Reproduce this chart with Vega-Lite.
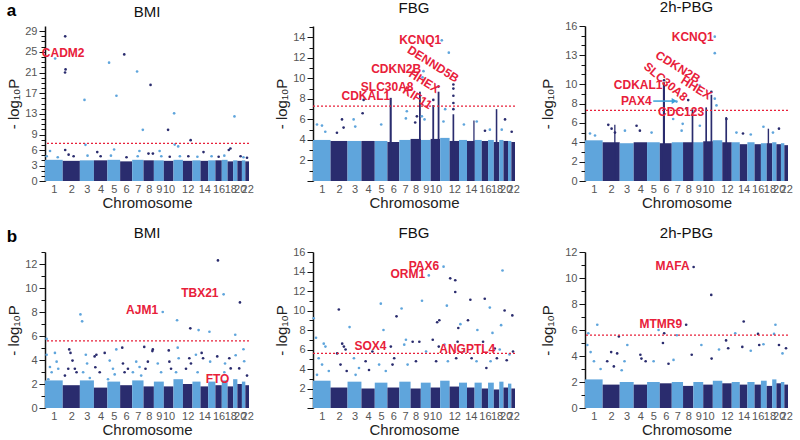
{
"$schema": "https://vega.github.io/schema/vega-lite/v6.json",
"padding": {"left": 6, "top": 0, "right": 4, "bottom": 0},
"datasets": {
"chr": [
{"c":1,"s":0,"e":250,"aB":4.1,"aF":4.0,"aP":4.2,"bB":2.3,"bF":2.8,"bP":2.2},
{"c":2,"s":250,"e":492,"aB":3.9,"aF":3.9,"aP":4.0,"bB":1.9,"bF":2.1,"bP":1.8},
{"c":3,"s":492,"e":690,"aB":4.0,"aF":3.9,"aP":3.9,"bB":2.3,"bF":2.7,"bP":2.0},
{"c":4,"s":690,"e":880,"aB":4.0,"aF":3.9,"aP":4.0,"bB":1.7,"bF":2.0,"bP":1.8},
{"c":5,"s":880,"e":1060,"aB":4.1,"aF":3.9,"aP":4.0,"bB":2.2,"bF":2.6,"bP":2.0},
{"c":6,"s":1060,"e":1230,"aB":3.8,"aF":3.8,"aP":3.9,"bB":1.9,"bF":2.1,"bP":1.9},
{"c":7,"s":1230,"e":1390,"aB":4.1,"aF":4.0,"aP":4.0,"bB":2.3,"bF":2.7,"bP":2.0},
{"c":8,"s":1390,"e":1536,"aB":4.0,"aF":4.1,"aP":4.0,"bB":1.8,"bF":2.0,"bP":1.7},
{"c":9,"s":1536,"e":1676,"aB":4.0,"aF":4.0,"aP":4.0,"bB":2.2,"bF":2.6,"bP":2.0},
{"c":10,"s":1676,"e":1812,"aB":3.9,"aF":4.1,"aP":4.1,"bB":1.8,"bF":2.1,"bP":1.8},
{"c":11,"s":1812,"e":1946,"aB":4.1,"aF":4.2,"aP":4.2,"bB":2.4,"bF":2.8,"bP":2.1},
{"c":12,"s":1946,"e":2080,"aB":3.9,"aF":3.9,"aP":4.0,"bB":2.0,"bF":2.2,"bP":1.9},
{"c":13,"s":2080,"e":2194,"aB":4.0,"aF":4.0,"aP":4.0,"bB":2.2,"bF":2.6,"bP":2.0},
{"c":14,"s":2194,"e":2302,"aB":3.9,"aF":3.9,"aP":3.8,"bB":1.8,"bF":2.1,"bP":1.8},
{"c":15,"s":2302,"e":2404,"aB":4.0,"aF":4.0,"aP":4.0,"bB":2.2,"bF":2.6,"bP":2.0},
{"c":16,"s":2404,"e":2494,"aB":4.0,"aF":3.9,"aP":3.8,"bB":1.9,"bF":2.0,"bP":1.8},
{"c":17,"s":2494,"e":2576,"aB":4.1,"aF":4.0,"aP":3.9,"bB":2.3,"bF":2.6,"bP":2.1},
{"c":18,"s":2576,"e":2654,"aB":3.8,"aF":3.8,"aP":3.9,"bB":1.8,"bF":1.9,"bP":1.7},
{"c":19,"s":2654,"e":2714,"aB":4.0,"aF":4.0,"aP":4.0,"bB":2.4,"bF":2.7,"bP":2.2},
{"c":20,"s":2714,"e":2778,"aB":3.9,"aF":3.9,"aP":3.8,"bB":2.0,"bF":2.1,"bP":1.9},
{"c":21,"s":2778,"e":2826,"aB":4.0,"aF":3.9,"aP":3.9,"bB":2.2,"bF":2.5,"bP":2.0},
{"c":22,"s":2826,"e":2878,"aB":3.8,"aF":3.8,"aP":3.7,"bB":1.9,"bF":2.0,"bP":1.8}
],
"peaks": [
{"p":"aF","c":6,"s":1092,"e":1122,"y":8.1},
{"p":"aF","c":8,"s":1510,"e":1536,"y":8.7},
{"p":"aF","c":10,"s":1700,"e":1726,"y":7.4},
{"p":"aF","c":10,"s":1776,"e":1802,"y":8.7},
{"p":"aF","c":12,"s":1988,"e":2012,"y":6.5},
{"p":"aF","c":14,"s":2284,"e":2302,"y":5.9},
{"p":"aF","c":18,"s":2604,"e":2626,"y":7.0},
{"p":"aP","c":6,"s":1104,"e":1134,"y":10.2},
{"p":"aP","c":8,"s":1512,"e":1536,"y":7.4},
{"p":"aP","c":10,"s":1706,"e":1730,"y":7.6},
{"p":"aP","c":10,"s":1780,"e":1804,"y":8.9},
{"p":"aP","c":12,"s":1990,"e":2014,"y":6.6},
{"p":"aP","c":2,"s":414,"e":432,"y":5.8},
{"p":"aP","c":18,"s":2590,"e":2610,"y":5.4}
],
"pts": [
{"p":"aB","c":1,"x":143,"y":23.7},{"p":"aB","c":2,"x":285,"y":28.0},{"p":"aB","c":2,"x":290,"y":21.6},{"p":"aB","c":2,"x":283,"y":21.0},
{"p":"aB","c":3,"x":557,"y":15.7},{"p":"aB","c":3,"x":571,"y":7.0},{"p":"aB","c":5,"x":904,"y":22.9},{"p":"aB","c":5,"x":1008,"y":16.5},
{"p":"aB","c":6,"x":1118,"y":24.5},{"p":"aB","c":7,"x":1299,"y":21.2},{"p":"aB","c":7,"x":1380,"y":9.9},{"p":"aB","c":8,"x":1489,"y":18.6},
{"p":"aB","c":10,"x":1736,"y":9.9},{"p":"aB","c":11,"x":1822,"y":13.1},{"p":"aB","c":11,"x":1830,"y":7.05},{"p":"aB","c":11,"x":1879,"y":6.7},
{"p":"aB","c":12,"x":2055,"y":7.9},{"p":"aB","c":19,"x":2673,"y":12.5},
{"p":"aB","c":1,"x":71,"y":5.8},{"p":"aB","c":1,"x":24,"y":4.8},{"p":"aB","c":1,"x":180,"y":4.6},{"p":"aB","c":2,"x":285,"y":6.0},
{"p":"aB","c":2,"x":333,"y":5.1},{"p":"aB","c":2,"x":404,"y":4.8},{"p":"aB","c":3,"x":600,"y":4.9},{"p":"aB","c":4,"x":737,"y":5.6},
{"p":"aB","c":4,"x":785,"y":4.8},{"p":"aB","c":5,"x":975,"y":6.1},{"p":"aB","c":5,"x":930,"y":4.9},{"p":"aB","c":6,"x":1150,"y":4.6},
{"p":"aB","c":7,"x":1332,"y":5.8},{"p":"aB","c":7,"x":1308,"y":4.8},{"p":"aB","c":8,"x":1460,"y":5.3},{"p":"aB","c":8,"x":1522,"y":5.3},
{"p":"aB","c":9,"x":1617,"y":5.8},{"p":"aB","c":9,"x":1641,"y":4.8},{"p":"aB","c":10,"x":1760,"y":4.7},{"p":"aB","c":11,"x":1903,"y":4.8},
{"p":"aB","c":12,"x":2022,"y":4.8},{"p":"aB","c":13,"x":2150,"y":4.7},{"p":"aB","c":14,"x":2236,"y":5.6},{"p":"aB","c":15,"x":2350,"y":4.8},
{"p":"aB","c":16,"x":2450,"y":4.7},{"p":"aB","c":17,"x":2530,"y":4.9},{"p":"aB","c":18,"x":2593,"y":6.0},{"p":"aB","c":18,"x":2616,"y":6.3},
{"p":"aB","c":20,"x":2759,"y":4.8},{"p":"aB","c":21,"x":2800,"y":4.6},{"p":"aB","c":22,"x":2850,"y":4.5},

{"p":"aF","c":11,"x":1835,"y":13.7},{"p":"aF","c":11,"x":1935,"y":12.5},{"p":"aF","c":9,"x":1574,"y":10.7},{"p":"aF","c":9,"x":1560,"y":10.1},
{"p":"aF","c":4,"x":721,"y":7.9},{"p":"aF","c":4,"x":707,"y":6.6},{"p":"aF","c":1,"x":57,"y":5.5},{"p":"aF","c":1,"x":128,"y":5.4},
{"p":"aF","c":1,"x":175,"y":4.8},{"p":"aF","c":2,"x":413,"y":6.0},{"p":"aF","c":2,"x":436,"y":5.2},{"p":"aF","c":2,"x":341,"y":4.7},
{"p":"aF","c":3,"x":579,"y":6.0},{"p":"aF","c":3,"x":602,"y":5.3},{"p":"aF","c":5,"x":972,"y":5.5},{"p":"aF","c":7,"x":1323,"y":6.1},
{"p":"aF","c":7,"x":1337,"y":6.8},{"p":"aF","c":8,"x":1480,"y":6.3},{"p":"aF","c":8,"x":1456,"y":5.7},{"p":"aF","c":9,"x":1551,"y":6.3},
{"p":"aF","c":9,"x":1589,"y":6.0},{"p":"aF","c":11,"x":1859,"y":5.8},{"p":"aF","c":11,"x":1883,"y":7.0},{"p":"aF","c":12,"x":2000,"y":9.4},
{"p":"aF","c":12,"x":2000,"y":9.0},{"p":"aF","c":12,"x":2000,"y":8.3},{"p":"aF","c":12,"x":2000,"y":7.6},{"p":"aF","c":12,"x":2000,"y":7.0},
{"p":"aF","c":13,"x":2150,"y":5.5},{"p":"aF","c":15,"x":2333,"y":5.8},{"p":"aF","c":16,"x":2450,"y":4.9},{"p":"aF","c":17,"x":2520,"y":5.0},
{"p":"aF","c":19,"x":2689,"y":5.0},{"p":"aF","c":20,"x":2736,"y":6.0},{"p":"aF","c":22,"x":2831,"y":4.8},{"p":"aF","c":10,"x":1714,"y":7.9},
{"p":"aF","c":10,"x":1788,"y":9.2},

{"p":"aP","c":11,"x":1840,"y":14.9},{"p":"aP","c":11,"x":1840,"y":13.2},{"p":"aP","c":9,"x":1628,"y":9.85},{"p":"aP","c":8,"x":1463,"y":8.35},
{"p":"aP","c":7,"x":1297,"y":8.2},{"p":"aP","c":7,"x":1385,"y":5.9},{"p":"aP","c":7,"x":1370,"y":5.2},{"p":"aP","c":8,"x":1439,"y":7.5},
{"p":"aP","c":11,"x":1840,"y":8.5},{"p":"aP","c":11,"x":1864,"y":7.8},{"p":"aP","c":12,"x":2005,"y":6.4},{"p":"aP","c":1,"x":71,"y":4.9},
{"p":"aP","c":1,"x":142,"y":4.7},{"p":"aP","c":2,"x":330,"y":5.8},{"p":"aP","c":2,"x":377,"y":5.4},{"p":"aP","c":2,"x":425,"y":5.0},
{"p":"aP","c":3,"x":566,"y":5.2},{"p":"aP","c":4,"x":731,"y":5.7},{"p":"aP","c":4,"x":778,"y":5.2},{"p":"aP","c":5,"x":944,"y":5.0},
{"p":"aP","c":7,"x":1250,"y":6.4},{"p":"aP","c":9,"x":1628,"y":5.7},{"p":"aP","c":13,"x":2147,"y":5.0},{"p":"aP","c":14,"x":2240,"y":4.9},
{"p":"aP","c":15,"x":2350,"y":4.8},{"p":"aP","c":17,"x":2530,"y":5.6},{"p":"aP","c":19,"x":2665,"y":5.0},{"p":"aP","c":20,"x":2750,"y":5.4},
{"p":"aP","c":6,"x":1120,"y":10.4},{"p":"aP","c":10,"x":1792,"y":9.2},

{"p":"bB","c":1,"x":23,"y":5.76},{"p":"bB","c":1,"x":23,"y":4.44},{"p":"bB","c":1,"x":70,"y":3.42},{"p":"bB","c":1,"x":140,"y":4.59},
{"p":"bB","c":1,"x":164,"y":3.86},{"p":"bB","c":1,"x":94,"y":2.98},{"p":"bB","c":1,"x":187,"y":3.27},{"p":"bB","c":1,"x":47,"y":2.4},
{"p":"bB","c":2,"x":342,"y":4.88},{"p":"bB","c":2,"x":360,"y":4.59},{"p":"bB","c":2,"x":388,"y":3.95},{"p":"bB","c":2,"x":328,"y":3.27},
{"p":"bB","c":2,"x":421,"y":3.27},{"p":"bB","c":2,"x":445,"y":2.98},{"p":"bB","c":2,"x":281,"y":2.7},
{"p":"bB","c":3,"x":500,"y":7.8},{"p":"bB","c":3,"x":524,"y":7.22},{"p":"bB","c":3,"x":576,"y":4.44},{"p":"bB","c":3,"x":594,"y":3.71},
{"p":"bB","c":3,"x":538,"y":2.98},{"p":"bB","c":3,"x":632,"y":2.5},
{"p":"bB","c":4,"x":700,"y":4.3},{"p":"bB","c":4,"x":725,"y":4.44},{"p":"bB","c":4,"x":842,"y":4.59},{"p":"bB","c":4,"x":772,"y":2.98},{"p":"bB","c":4,"x":710,"y":3.4},
{"p":"bB","c":5,"x":913,"y":3.95},{"p":"bB","c":5,"x":959,"y":3.27},{"p":"bB","c":5,"x":1006,"y":4.88},{"p":"bB","c":5,"x":889,"y":2.4},{"p":"bB","c":5,"x":983,"y":2.8},
{"p":"bB","c":6,"x":1090,"y":5.03},{"p":"bB","c":6,"x":1100,"y":3.71},{"p":"bB","c":6,"x":1170,"y":3.27},{"p":"bB","c":6,"x":1123,"y":2.98},
{"p":"bB","c":7,"x":1287,"y":3.86},{"p":"bB","c":7,"x":1334,"y":3.42},{"p":"bB","c":7,"x":1240,"y":2.98},{"p":"bB","c":7,"x":1357,"y":2.7},
{"p":"bB","c":8,"x":1400,"y":5.09},{"p":"bB","c":8,"x":1521,"y":4.88},{"p":"bB","c":8,"x":1515,"y":4.74},{"p":"bB","c":8,"x":1451,"y":3.86},{"p":"bB","c":8,"x":1418,"y":3.27},
{"p":"bB","c":9,"x":1591,"y":3.71},{"p":"bB","c":9,"x":1638,"y":2.98},{"p":"bB","c":9,"x":1661,"y":8.0},
{"p":"bB","c":10,"x":1746,"y":4.8},{"p":"bB","c":10,"x":1755,"y":3.86},{"p":"bB","c":10,"x":1778,"y":3.27},
{"p":"bB","c":11,"x":1863,"y":7.31},{"p":"bB","c":11,"x":1872,"y":5.03},{"p":"bB","c":11,"x":1886,"y":4.15},{"p":"bB","c":11,"x":1849,"y":2.98},
{"p":"bB","c":12,"x":2050,"y":6.64},{"p":"bB","c":12,"x":2036,"y":4.15},{"p":"bB","c":12,"x":2059,"y":3.71},{"p":"bB","c":12,"x":1989,"y":3.27},
{"p":"bB","c":13,"x":2167,"y":6.49},{"p":"bB","c":13,"x":2129,"y":4.44},{"p":"bB","c":13,"x":2153,"y":2.98},
{"p":"bB","c":14,"x":2210,"y":4.59},{"p":"bB","c":14,"x":2230,"y":4.15},
{"p":"bB","c":15,"x":2320,"y":6.35},{"p":"bB","c":15,"x":2330,"y":3.86},
{"p":"bB","c":16,"x":2440,"y":12.3},{"p":"bB","c":16,"x":2430,"y":4.3},
{"p":"bB","c":17,"x":2520,"y":9.47},{"p":"bB","c":17,"x":2530,"y":2.98},{"p":"bB","c":17,"x":2540,"y":3.71},
{"p":"bB","c":18,"x":2600,"y":4.15},{"p":"bB","c":18,"x":2620,"y":3.3},
{"p":"bB","c":19,"x":2684,"y":6.1},{"p":"bB","c":19,"x":2690,"y":4.4},
{"p":"bB","c":20,"x":2750,"y":8.8},{"p":"bB","c":20,"x":2740,"y":3.3},
{"p":"bB","c":21,"x":2800,"y":4.9},{"p":"bB","c":21,"x":2810,"y":3.9},{"p":"bB","c":22,"x":2850,"y":2.7},

{"p":"bF","c":1,"x":10,"y":9.2},{"p":"bF","c":1,"x":43,"y":7.2},{"p":"bF","c":1,"x":153,"y":6.6},{"p":"bF","c":1,"x":177,"y":6.3},
{"p":"bF","c":1,"x":81,"y":5.1},{"p":"bF","c":1,"x":129,"y":4.45},{"p":"bF","c":1,"x":225,"y":3.8},{"p":"bF","c":1,"x":57,"y":3.4},
{"p":"bF","c":2,"x":368,"y":10.1},{"p":"bF","c":2,"x":416,"y":6.6},{"p":"bF","c":2,"x":440,"y":6.3},{"p":"bF","c":2,"x":464,"y":6.0},
{"p":"bF","c":2,"x":344,"y":5.6},{"p":"bF","c":2,"x":392,"y":4.45},{"p":"bF","c":2,"x":480,"y":3.8},
{"p":"bF","c":3,"x":521,"y":8.3},{"p":"bF","c":3,"x":583,"y":5.1},{"p":"bF","c":3,"x":655,"y":4.1},{"p":"bF","c":3,"x":607,"y":3.4},
{"p":"bF","c":4,"x":846,"y":5.8},{"p":"bF","c":4,"x":750,"y":4.8},{"p":"bF","c":4,"x":798,"y":3.9},
{"p":"bF","c":5,"x":966,"y":10.7},{"p":"bF","c":5,"x":1004,"y":8.0},{"p":"bF","c":5,"x":942,"y":4.45},{"p":"bF","c":5,"x":1037,"y":3.8},
{"p":"bF","c":6,"x":1109,"y":6.3},{"p":"bF","c":6,"x":1190,"y":9.4},{"p":"bF","c":6,"x":1157,"y":5.1},{"p":"bF","c":6,"x":1133,"y":4.45},
{"p":"bF","c":7,"x":1262,"y":10.2},{"p":"bF","c":7,"x":1324,"y":7.0},{"p":"bF","c":7,"x":1300,"y":6.5},{"p":"bF","c":7,"x":1348,"y":4.45},
{"p":"bF","c":8,"x":1420,"y":6.8},{"p":"bF","c":8,"x":1515,"y":6.8},{"p":"bF","c":8,"x":1467,"y":4.8},
{"p":"bF","c":9,"x":1553,"y":11.0},{"p":"bF","c":9,"x":1650,"y":13.6},{"p":"bF","c":9,"x":1611,"y":5.8},
{"p":"bF","c":10,"x":1769,"y":8.8},{"p":"bF","c":10,"x":1800,"y":9.0},{"p":"bF","c":10,"x":1792,"y":6.3},{"p":"bF","c":10,"x":1706,"y":7.0},{"p":"bF","c":10,"x":1754,"y":4.8},
{"p":"bF","c":11,"x":1860,"y":14.5},{"p":"bF","c":11,"x":1907,"y":10.5},{"p":"bF","c":11,"x":1874,"y":6.5},{"p":"bF","c":11,"x":1922,"y":4.8},
{"p":"bF","c":12,"x":1955,"y":13.3},{"p":"bF","c":12,"x":2027,"y":13.1},{"p":"bF","c":12,"x":2027,"y":11.9},{"p":"bF","c":12,"x":2070,"y":8.2},{"p":"bF","c":12,"x":2060,"y":6.8},{"p":"bF","c":12,"x":2040,"y":5.1},
{"p":"bF","c":13,"x":2100,"y":8.6},{"p":"bF","c":13,"x":2150,"y":5.8},
{"p":"bF","c":14,"x":2242,"y":11.1},{"p":"bF","c":14,"x":2208,"y":9.0},{"p":"bF","c":14,"x":2260,"y":5.1},
{"p":"bF","c":15,"x":2342,"y":8.0},{"p":"bF","c":15,"x":2330,"y":4.8},
{"p":"bF","c":16,"x":2447,"y":11.2},{"p":"bF","c":16,"x":2423,"y":6.8},{"p":"bF","c":16,"x":2470,"y":4.1},
{"p":"bF","c":17,"x":2519,"y":10.3},{"p":"bF","c":17,"x":2557,"y":7.7},{"p":"bF","c":17,"x":2530,"y":4.8},
{"p":"bF","c":18,"x":2590,"y":6.1},{"p":"bF","c":18,"x":2620,"y":5.1},
{"p":"bF","c":19,"x":2660,"y":6.0},{"p":"bF","c":19,"x":2680,"y":8.5},{"p":"bF","c":19,"x":2700,"y":14.1},
{"p":"bF","c":20,"x":2730,"y":10.0},{"p":"bF","c":20,"x":2760,"y":4.9},{"p":"bF","c":21,"x":2800,"y":5.5},
{"p":"bF","c":22,"x":2840,"y":9.5},{"p":"bF","c":22,"x":2850,"y":5.8},

{"p":"bP","c":1,"x":47,"y":5.75},{"p":"bP","c":1,"x":33,"y":4.85},{"p":"bP","c":1,"x":174,"y":6.4},{"p":"bP","c":1,"x":80,"y":4.3},
{"p":"bP","c":1,"x":127,"y":3.6},{"p":"bP","c":1,"x":221,"y":3.0},
{"p":"bP","c":2,"x":371,"y":4.3},{"p":"bP","c":2,"x":456,"y":4.2},{"p":"bP","c":2,"x":480,"y":5.5},{"p":"bP","c":2,"x":315,"y":3.6},{"p":"bP","c":2,"x":409,"y":3.2},
{"p":"bP","c":3,"x":600,"y":4.85},{"p":"bP","c":3,"x":560,"y":3.6},{"p":"bP","c":3,"x":520,"y":2.9},
{"p":"bP","c":4,"x":785,"y":4.1},{"p":"bP","c":4,"x":800,"y":3.8},{"p":"bP","c":4,"x":860,"y":3.6},
{"p":"bP","c":5,"x":1043,"y":6.0},{"p":"bP","c":5,"x":973,"y":3.6},
{"p":"bP","c":6,"x":1105,"y":5.0},{"p":"bP","c":6,"x":1123,"y":5.75},{"p":"bP","c":6,"x":1184,"y":3.4},
{"p":"bP","c":7,"x":1302,"y":5.6},{"p":"bP","c":7,"x":1255,"y":3.7},
{"p":"bP","c":8,"x":1434,"y":6.4},{"p":"bP","c":8,"x":1540,"y":10.85},{"p":"bP","c":8,"x":1513,"y":4.1},
{"p":"bP","c":9,"x":1650,"y":4.85},{"p":"bP","c":10,"x":1790,"y":8.7},{"p":"bP","c":10,"x":1795,"y":3.8},
{"p":"bP","c":11,"x":1900,"y":4.5},{"p":"bP","c":12,"x":2000,"y":5.2},{"p":"bP","c":12,"x":2030,"y":4.6},
{"p":"bP","c":13,"x":2130,"y":5.75},{"p":"bP","c":14,"x":2250,"y":6.65},{"p":"bP","c":14,"x":2230,"y":4.7},
{"p":"bP","c":15,"x":2350,"y":4.4},{"p":"bP","c":16,"x":2453,"y":5.7},{"p":"bP","c":16,"x":2470,"y":4.85},
{"p":"bP","c":17,"x":2530,"y":4.9},{"p":"bP","c":19,"x":2680,"y":5.7},{"p":"bP","c":19,"x":2700,"y":6.4},
{"p":"bP","c":20,"x":2750,"y":4.85},{"p":"bP","c":21,"x":2800,"y":4.2},{"p":"bP","c":22,"x":2850,"y":4.6}
],
"lab": [
{"p":"aB","g":"CADM2","x":557,"y":24.7},
{"p":"aF","g":"KCNQ1","x":1826,"y":13.7},{"p":"aF","g":"CDKN2B","x":1541,"y":10.9},{"p":"aF","g":"SLC30A8","x":1432,"y":9.2},{"p":"aF","g":"CDKAL1","x":1100,"y":8.3},
{"p":"aP","g":"KCNQ1","x":1826,"y":14.85},{"p":"aP","g":"CDKAL1","x":1099,"y":9.9},{"p":"aP","g":"PAX4","x":944,"y":8.25},{"p":"aP","g":"CDC123","x":1689,"y":7.1},
{"p":"bB","g":"AJM1","x":1638,"y":8.2},{"p":"bB","g":"TBX21","x":2490,"y":9.55},{"p":"bB","g":"FTO","x":2644,"y":2.4},
{"p":"bF","g":"PAX6","x":1840,"y":14.6},{"p":"bF","g":"ORM1","x":1640,"y":13.7},{"p":"bF","g":"SOX4","x":1090,"y":6.4},{"p":"bF","g":"ANGPTL4","x":2640,"y":6.1},
{"p":"bP","g":"MAFA","x":1525,"y":10.9},{"p":"bP","g":"MTMR9","x":1420,"y":6.5}
],
"rot": [
{"p":"aF","g":"DENND5B","x":2063,"y":9.9},{"p":"aF","g":"HHEX","x":1788,"y":8.85},{"p":"aF","g":"KIF11","x":1683,"y":7.3},
{"p":"aP","g":"CDKN2B","x":1618,"y":10.4},{"p":"aP","g":"HHEX","x":1779,"y":8.7}
],
"rot40": [
{"p":"aP","g":"SLC30A8","x":1430,"y":8.5}
],
"arrow": [
{"p":"aP","x":967,"x2":1265,"y":8.25}
]
},
"vconcat": [
{
"title": {"text": "a", "anchor": "start", "fontSize": 17, "fontWeight": "bold", "offset": -20, "color": "#000"},
"spacing": 20,
"hconcat": [
{
"width": 204, "height": 155, "title": "BMI",
"resolve": {"axis": {"x": "independent", "y": "independent"}},
"layer": [
{"data": {"name": "chr"}, "mark": {"type": "rect"},
 "encoding": {
  "x": {"field": "s", "type": "quantitative", "scale": {"domain": [0, 2878], "nice": false, "zero": false},
   "axis": {"title": "Chromosome", "labelOverlap": false, "values": [125,371,591,785,970,1145,1310,1463,1606,1744,2013,2248,2449,2615,2746,2852],
   "labelExpr": "['1','2','3','4','5','6','7','8','9','10','12','14','16','18','20','22'][indexof([125,371,591,785,970,1145,1310,1463,1606,1744,2013,2248,2449,2615,2746,2852], datum.value)]"}},
  "x2": {"field": "e"},
  "y": {"field": "aB", "type": "quantitative", "scale": {"domain": [0, 30], "nice": false},
   "axis": {"title": "- log₁₀P", "labelOverlap": false, "values": [0,1,2,3,4,5,6,7,8,9,10,11,12,13,14,15,16,17,18,19,20,21,22,23,24,25,26,27,28,29],
   "labelExpr": "indexof([0,3,6,9,13,17,21,25,29], datum.value) >= 0 ? datum.label : ''",
   "tickSize": {"condition": {"test": "indexof([0,3,6,9,13,17,21,25,29], datum.value) >= 0", "value": 6}, "value": 4}}},
  "y2": {"datum": 0},
  "color": {"condition": {"test": "datum.c % 2 == 1", "value": "#5fa5dc"}, "value": "#2a2c6e"}}},
{"data": {"name": "pts"}, "transform": [{"filter": "datum.p == 'aB'"}], "mark": {"type": "circle", "size": 7, "opacity": 1},
 "encoding": {"x": {"field": "x", "type": "quantitative", "axis": null}, "y": {"field": "y", "type": "quantitative", "axis": null},
  "color": {"condition": {"test": "datum.c % 2 == 1", "value": "#5fa5dc"}, "value": "#2a2c6e"}}},
{"data": {"values": [{}]}, "mark": {"type": "rule", "color": "#e8203a", "strokeDash": [2, 2], "strokeWidth": 1.3}, "encoding": {"y": {"datum": 7.3, "type": "quantitative", "axis": null}}},
{"data": {"name": "lab"}, "transform": [{"filter": "datum.p == 'aB'"}], "mark": {"type": "text", "align": "right", "baseline": "middle", "fontWeight": "bold", "fontSize": 12, "color": "#e8203a"},
 "encoding": {"x": {"field": "x", "type": "quantitative", "axis": null}, "y": {"field": "y", "type": "quantitative", "axis": null}, "text": {"field": "g"}}}
]
},
{
"width": 202, "height": 155, "title": "FBG",
"resolve": {"axis": {"x": "independent", "y": "independent"}},
"layer": [
{"data": {"name": "chr"}, "mark": {"type": "rect"},
 "encoding": {
  "x": {"field": "s", "type": "quantitative", "scale": {"domain": [0, 2878], "nice": false, "zero": false},
   "axis": {"title": "Chromosome", "labelOverlap": false, "values": [125,371,591,785,970,1145,1310,1463,1606,1744,2013,2248,2449,2615,2746,2852],
   "labelExpr": "['1','2','3','4','5','6','7','8','9','10','12','14','16','18','20','22'][indexof([125,371,591,785,970,1145,1310,1463,1606,1744,2013,2248,2449,2615,2746,2852], datum.value)]"}},
  "x2": {"field": "e"},
  "y": {"field": "aF", "type": "quantitative", "scale": {"domain": [0, 15.1], "nice": false},
   "axis": {"title": "- log₁₀P", "labelOverlap": false, "values": [0,1,2,3,4,5,6,7,8,9,10,11,12,13,14,15],
   "labelExpr": "indexof([2,4,6,8,10,12,14], datum.value) >= 0 ? datum.label : ''",
   "tickSize": {"condition": {"test": "indexof([0,2,4,6,8,10,12,14], datum.value) >= 0", "value": 6}, "value": 4}}},
  "y2": {"datum": 0},
  "color": {"condition": {"test": "datum.c % 2 == 1", "value": "#5fa5dc"}, "value": "#2a2c6e"}}},
{"data": {"name": "peaks"}, "transform": [{"filter": "datum.p == 'aF'"}], "mark": {"type": "rect"},
 "encoding": {"x": {"field": "s", "type": "quantitative", "axis": null}, "x2": {"field": "e"}, "y": {"field": "y", "type": "quantitative", "axis": null}, "y2": {"datum": 0},
  "color": {"condition": {"test": "datum.c % 2 == 1", "value": "#5fa5dc"}, "value": "#2a2c6e"}}},
{"data": {"name": "pts"}, "transform": [{"filter": "datum.p == 'aF'"}], "mark": {"type": "circle", "size": 7, "opacity": 1},
 "encoding": {"x": {"field": "x", "type": "quantitative", "axis": null}, "y": {"field": "y", "type": "quantitative", "axis": null},
  "color": {"condition": {"test": "datum.c % 2 == 1", "value": "#5fa5dc"}, "value": "#2a2c6e"}}},
{"data": {"values": [{}]}, "mark": {"type": "rule", "color": "#e8203a", "strokeDash": [2, 2], "strokeWidth": 1.3}, "encoding": {"y": {"datum": 7.3, "type": "quantitative", "axis": null}}},
{"data": {"name": "lab"}, "transform": [{"filter": "datum.p == 'aF'"}], "mark": {"type": "text", "align": "right", "baseline": "middle", "fontWeight": "bold", "fontSize": 12, "color": "#e8203a"},
 "encoding": {"x": {"field": "x", "type": "quantitative", "axis": null}, "y": {"field": "y", "type": "quantitative", "axis": null}, "text": {"field": "g"}}},
{"data": {"name": "rot"}, "transform": [{"filter": "datum.p == 'aF'"}], "mark": {"type": "text", "align": "right", "baseline": "middle", "angle": 32, "fontWeight": "bold", "fontSize": 12, "color": "#e8203a"},
 "encoding": {"x": {"field": "x", "type": "quantitative", "axis": null}, "y": {"field": "y", "type": "quantitative", "axis": null}, "text": {"field": "g"}}}
]
},
{
"width": 203, "height": 155, "title": "2h-PBG",
"resolve": {"axis": {"x": "independent", "y": "independent"}},
"layer": [
{"data": {"name": "chr"}, "mark": {"type": "rect"},
 "encoding": {
  "x": {"field": "s", "type": "quantitative", "scale": {"domain": [0, 2878], "nice": false, "zero": false},
   "axis": {"title": "Chromosome", "labelOverlap": false, "values": [125,371,591,785,970,1145,1310,1463,1606,1744,2013,2248,2449,2615,2746,2852],
   "labelExpr": "['1','2','3','4','5','6','7','8','9','10','12','14','16','18','20','22'][indexof([125,371,591,785,970,1145,1310,1463,1606,1744,2013,2248,2449,2615,2746,2852], datum.value)]"}},
  "x2": {"field": "e"},
  "y": {"field": "aP", "type": "quantitative", "scale": {"domain": [0, 16], "nice": false},
   "axis": {"title": "- log₁₀P", "titlePadding": 9, "labelOverlap": false, "values": [0,1,2,3,4,5,6,7,8,9,10,11,12,13,14,15,16],
   "labelExpr": "indexof([0,2,4,6,8,10,13,16], datum.value) >= 0 ? datum.label : ''",
   "tickSize": {"condition": {"test": "indexof([0,2,4,6,8,10,13,16], datum.value) >= 0", "value": 6}, "value": 4}}},
  "y2": {"datum": 0},
  "color": {"condition": {"test": "datum.c % 2 == 1", "value": "#5fa5dc"}, "value": "#2a2c6e"}}},
{"data": {"name": "peaks"}, "transform": [{"filter": "datum.p == 'aP'"}], "mark": {"type": "rect"},
 "encoding": {"x": {"field": "s", "type": "quantitative", "axis": null}, "x2": {"field": "e"}, "y": {"field": "y", "type": "quantitative", "axis": null}, "y2": {"datum": 0},
  "color": {"condition": {"test": "datum.c % 2 == 1", "value": "#5fa5dc"}, "value": "#2a2c6e"}}},
{"data": {"name": "pts"}, "transform": [{"filter": "datum.p == 'aP'"}], "mark": {"type": "circle", "size": 7, "opacity": 1},
 "encoding": {"x": {"field": "x", "type": "quantitative", "axis": null}, "y": {"field": "y", "type": "quantitative", "axis": null},
  "color": {"condition": {"test": "datum.c % 2 == 1", "value": "#5fa5dc"}, "value": "#2a2c6e"}}},
{"data": {"values": [{}]}, "mark": {"type": "rule", "color": "#e8203a", "strokeDash": [2, 2], "strokeWidth": 1.3}, "encoding": {"y": {"datum": 7.3, "type": "quantitative", "axis": null}}},
{"data": {"name": "arrow"}, "mark": {"type": "rule", "color": "#3a9fd9", "strokeWidth": 1.5},
 "encoding": {"x": {"field": "x", "type": "quantitative", "axis": null}, "x2": {"field": "x2"}, "y": {"field": "y", "type": "quantitative", "axis": null}}},
{"data": {"name": "arrow"}, "mark": {"type": "point", "shape": "triangle-right", "filled": true, "color": "#3a9fd9", "size": 35, "opacity": 1},
 "encoding": {"x": {"field": "x2", "type": "quantitative", "axis": null}, "y": {"field": "y", "type": "quantitative", "axis": null}}},
{"data": {"name": "lab"}, "transform": [{"filter": "datum.p == 'aP'"}], "mark": {"type": "text", "align": "right", "baseline": "middle", "fontWeight": "bold", "fontSize": 12, "color": "#e8203a"},
 "encoding": {"x": {"field": "x", "type": "quantitative", "axis": null}, "y": {"field": "y", "type": "quantitative", "axis": null}, "text": {"field": "g"}}},
{"data": {"name": "rot"}, "transform": [{"filter": "datum.p == 'aP'"}], "mark": {"type": "text", "align": "right", "baseline": "middle", "angle": 32, "fontWeight": "bold", "fontSize": 12, "color": "#e8203a"},
 "encoding": {"x": {"field": "x", "type": "quantitative", "axis": null}, "y": {"field": "y", "type": "quantitative", "axis": null}, "text": {"field": "g"}}},
{"data": {"name": "rot40"}, "mark": {"type": "text", "align": "right", "baseline": "middle", "angle": 40, "fontWeight": "bold", "fontSize": 12, "color": "#e8203a"},
 "encoding": {"x": {"field": "x", "type": "quantitative", "axis": null}, "y": {"field": "y", "type": "quantitative", "axis": null}, "text": {"field": "g"}}}
]
}
]
},
{
"title": {"text": "b", "anchor": "start", "fontSize": 17, "fontWeight": "bold", "offset": -20, "color": "#000"},
"spacing": 20,
"hconcat": [
{
"width": 204, "height": 156, "title": "BMI",
"resolve": {"axis": {"x": "independent", "y": "independent"}},
"layer": [
{"data": {"name": "chr"}, "mark": {"type": "rect"},
 "encoding": {
  "x": {"field": "s", "type": "quantitative", "scale": {"domain": [0, 2878], "nice": false, "zero": false},
   "axis": {"title": "Chromosome", "labelOverlap": false, "values": [125,371,591,785,970,1145,1310,1463,1606,1744,2013,2248,2449,2615,2746,2852],
   "labelExpr": "['1','2','3','4','5','6','7','8','9','10','12','14','16','18','20','22'][indexof([125,371,591,785,970,1145,1310,1463,1606,1744,2013,2248,2449,2615,2746,2852], datum.value)]"}},
  "x2": {"field": "e"},
  "y": {"field": "bB", "type": "quantitative", "scale": {"domain": [0, 13], "nice": false},
   "axis": {"title": "- log₁₀P", "labelOverlap": false, "values": [0,1,2,3,4,5,6,7,8,9,10,11,12,13],
   "labelExpr": "indexof([0,2,4,6,8,10,12], datum.value) >= 0 ? datum.label : ''",
   "tickSize": {"condition": {"test": "indexof([0,2,4,6,8,10,12], datum.value) >= 0", "value": 6}, "value": 4}}},
  "y2": {"datum": 0},
  "color": {"condition": {"test": "datum.c % 2 == 1", "value": "#5fa5dc"}, "value": "#2a2c6e"}}},
{"data": {"name": "pts"}, "transform": [{"filter": "datum.p == 'bB'"}], "mark": {"type": "circle", "size": 7, "opacity": 1},
 "encoding": {"x": {"field": "x", "type": "quantitative", "axis": null}, "y": {"field": "y", "type": "quantitative", "axis": null},
  "color": {"condition": {"test": "datum.c % 2 == 1", "value": "#5fa5dc"}, "value": "#2a2c6e"}}},
{"data": {"values": [{}]}, "mark": {"type": "rule", "color": "#e8203a", "strokeDash": [2, 2], "strokeWidth": 1.3}, "encoding": {"y": {"datum": 5.6, "type": "quantitative", "axis": null}}},
{"data": {"name": "lab"}, "transform": [{"filter": "datum.p == 'bB'"}], "mark": {"type": "text", "align": "right", "baseline": "middle", "dx": -3, "fontWeight": "bold", "fontSize": 12, "color": "#e8203a"},
 "encoding": {"x": {"field": "x", "type": "quantitative", "axis": null}, "y": {"field": "y", "type": "quantitative", "axis": null}, "text": {"field": "g"}}}
]
},
{
"width": 202, "height": 156, "title": "FBG",
"resolve": {"axis": {"x": "independent", "y": "independent"}},
"layer": [
{"data": {"name": "chr"}, "mark": {"type": "rect"},
 "encoding": {
  "x": {"field": "s", "type": "quantitative", "scale": {"domain": [0, 2878], "nice": false, "zero": false},
   "axis": {"title": "Chromosome", "labelOverlap": false, "values": [125,371,591,785,970,1145,1310,1463,1606,1744,2013,2248,2449,2615,2746,2852],
   "labelExpr": "['1','2','3','4','5','6','7','8','9','10','12','14','16','18','20','22'][indexof([125,371,591,785,970,1145,1310,1463,1606,1744,2013,2248,2449,2615,2746,2852], datum.value)]"}},
  "x2": {"field": "e"},
  "y": {"field": "bF", "type": "quantitative", "scale": {"domain": [0, 16], "nice": false},
   "axis": {"title": "- log₁₀P", "labelOverlap": false, "values": [0,1,2,3,4,5,6,7,8,9,10,11,12,13,14,15,16],
   "labelExpr": "indexof([2,4,6,8,10,12,14,16], datum.value) >= 0 ? datum.label : ''",
   "tickSize": {"condition": {"test": "indexof([0,2,4,6,8,10,12,14,16], datum.value) >= 0", "value": 6}, "value": 4}}},
  "y2": {"datum": 0},
  "color": {"condition": {"test": "datum.c % 2 == 1", "value": "#5fa5dc"}, "value": "#2a2c6e"}}},
{"data": {"name": "pts"}, "transform": [{"filter": "datum.p == 'bF'"}], "mark": {"type": "circle", "size": 7, "opacity": 1},
 "encoding": {"x": {"field": "x", "type": "quantitative", "axis": null}, "y": {"field": "y", "type": "quantitative", "axis": null},
  "color": {"condition": {"test": "datum.c % 2 == 1", "value": "#5fa5dc"}, "value": "#2a2c6e"}}},
{"data": {"values": [{}]}, "mark": {"type": "rule", "color": "#e8203a", "strokeDash": [2, 2], "strokeWidth": 1.3}, "encoding": {"y": {"datum": 5.6, "type": "quantitative", "axis": null}}},
{"data": {"name": "lab"}, "transform": [{"filter": "datum.p == 'bF'"}], "mark": {"type": "text", "align": "right", "baseline": "middle", "dx": -3, "fontWeight": "bold", "fontSize": 12, "color": "#e8203a"},
 "encoding": {"x": {"field": "x", "type": "quantitative", "axis": null}, "y": {"field": "y", "type": "quantitative", "axis": null}, "text": {"field": "g"}}}
]
},
{
"width": 203, "height": 156, "title": "2h-PBG",
"resolve": {"axis": {"x": "independent", "y": "independent"}},
"layer": [
{"data": {"name": "chr"}, "mark": {"type": "rect"},
 "encoding": {
  "x": {"field": "s", "type": "quantitative", "scale": {"domain": [0, 2878], "nice": false, "zero": false},
   "axis": {"title": "Chromosome", "labelOverlap": false, "values": [125,371,591,785,970,1145,1310,1463,1606,1744,2013,2248,2449,2615,2746,2852],
   "labelExpr": "['1','2','3','4','5','6','7','8','9','10','12','14','16','18','20','22'][indexof([125,371,591,785,970,1145,1310,1463,1606,1744,2013,2248,2449,2615,2746,2852], datum.value)]"}},
  "x2": {"field": "e"},
  "y": {"field": "bP", "type": "quantitative", "scale": {"domain": [0, 12], "nice": false},
   "axis": {"title": "- log₁₀P", "titlePadding": 9, "labelOverlap": false, "values": [0,1,2,3,4,5,6,7,8,9,10,11,12],
   "labelExpr": "indexof([0,2,4,6,8,10,12], datum.value) >= 0 ? datum.label : ''",
   "tickSize": {"condition": {"test": "indexof([0,2,4,6,8,10,12], datum.value) >= 0", "value": 6}, "value": 4}}},
  "y2": {"datum": 0},
  "color": {"condition": {"test": "datum.c % 2 == 1", "value": "#5fa5dc"}, "value": "#2a2c6e"}}},
{"data": {"name": "pts"}, "transform": [{"filter": "datum.p == 'bP'"}], "mark": {"type": "circle", "size": 7, "opacity": 1},
 "encoding": {"x": {"field": "x", "type": "quantitative", "axis": null}, "y": {"field": "y", "type": "quantitative", "axis": null},
  "color": {"condition": {"test": "datum.c % 2 == 1", "value": "#5fa5dc"}, "value": "#2a2c6e"}}},
{"data": {"values": [{}]}, "mark": {"type": "rule", "color": "#e8203a", "strokeDash": [2, 2], "strokeWidth": 1.3}, "encoding": {"y": {"datum": 5.6, "type": "quantitative", "axis": null}}},
{"data": {"name": "lab"}, "transform": [{"filter": "datum.p == 'bP'"}], "mark": {"type": "text", "align": "right", "baseline": "middle", "dx": -3, "fontWeight": "bold", "fontSize": 12, "color": "#e8203a"},
 "encoding": {"x": {"field": "x", "type": "quantitative", "axis": null}, "y": {"field": "y", "type": "quantitative", "axis": null}, "text": {"field": "g"}}}
]
}
]
}
],
"spacing": 16,
"config": {
"font": "Liberation Sans",
"view": {"stroke": null},
"title": {"fontSize": 15, "fontWeight": "normal", "color": "#111", "offset": 5},
"axisX": {"domain": false, "ticks": false, "grid": false, "labelColor": "#555", "labelFontSize": 11, "labelPadding": 2, "labelBound": false, "labelFlush": false, "titleFontSize": 15, "titleFontWeight": "normal", "titleColor": "#222", "titlePadding": 1},
"axisY": {"domainColor": "#111", "domainWidth": 1.5, "tickColor": "#111", "grid": false, "labelColor": "#555", "labelFontSize": 11, "labelPadding": 2, "titleFontSize": 15, "titleFontWeight": "normal", "titleColor": "#222", "titlePadding": 3}
}
}
